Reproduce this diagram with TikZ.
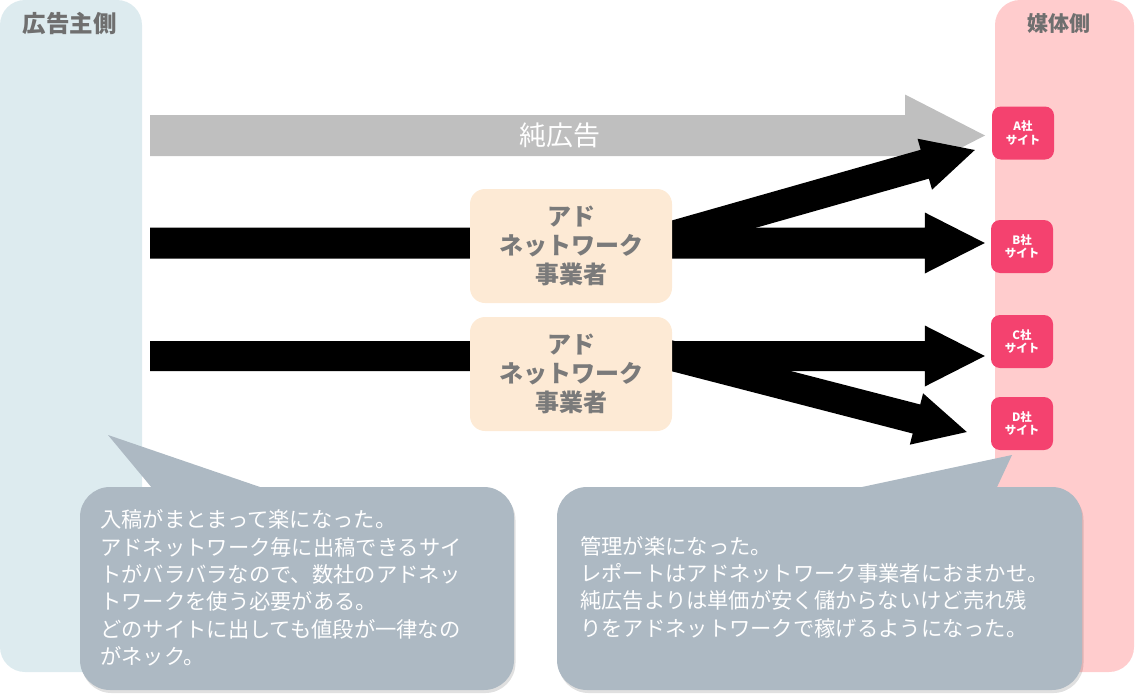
\documentclass[tikz,border=0pt]{standalone}
\usepackage{fontspec}
\setmainfont{Noto Sans CJK JP}
\newfontfamily\cjk{Noto Sans CJK JP}
\usetikzlibrary{calc}
\definecolor{advpanel}{HTML}{DDEBEF}
\definecolor{medpanel}{HTML}{FFCCCD}
\definecolor{sitered}{HTML}{F4426F}
\definecolor{peach}{HTML}{FDEAD5}
\definecolor{callout}{HTML}{ADB9C3}
\definecolor{pureg}{HTML}{BFBFBF}
\definecolor{titleg}{HTML}{6F6F6F}
\definecolor{netg}{HTML}{7A7A7A}
% #1 start, #2 tip, #3 body half width, #4 head half width, #5 head length, #6 colour
\newcommand\fatarrow[6]{%
  \path ($(#2)!#5!(#1)$) coordinate (fah);
  \fill[#6] ($(#1)!#3!90:(#2)$) -- ($(fah)!#3!90:(#2)$) -- ($(fah)!#4!90:(#2)$)
    -- (#2) -- ($(fah)!#4!-90:(#2)$) -- ($(fah)!#3!-90:(#2)$) -- ($(#1)!#3!-90:(#2)$) -- cycle;
}
\tikzset{
  paneltitle/.style={font=\fontsize{23.5}{27}\selectfont\bfseries, text=titleg},
  sitebox/.style={fill=sitered, rounded corners=9pt, minimum width=62pt, minimum height=53pt,
    inner sep=0pt, text=white, align=center, font=\fontsize{11.5}{13.5}\selectfont\bfseries},
  netbox/.style={fill=peach, rounded corners=15pt, minimum width=202pt, minimum height=114pt,
    inner sep=0pt, text=netg, align=center, font=\fontsize{24}{29}\selectfont\bfseries},
  callouttext/.style={text=white, align=left, anchor=west, inner sep=0pt,
    font=\fontsize{21.3}{27.3}\selectfont},
}
\begin{document}
\begin{tikzpicture}[x=1pt,y=-1pt]
\useasboundingbox (0,0) rectangle (1136,699);
\clip (0,0) rectangle (1136,699);
% panels
\fill[advpanel, rounded corners=25pt] (0,0) rectangle (142,672);
\fill[medpanel, rounded corners=25pt] (995,0) rectangle (1134,672);
\node[paneltitle] (advtitle) at (70,24) {広告主側};
\node[paneltitle, font=\fontsize{21}{25}\selectfont\bfseries] (medtitle) at (1059,24) {媒体側};
% sites
\node[sitebox] (siteA) at (1023,133) {A社\\サイト};
\node[sitebox] (siteB) at (1022,246.5) {B社\\サイト};
\node[sitebox] (siteC) at (1022,341.5) {C社\\サイト};
\node[sitebox] (siteD) at (1022,423.5) {D社\\サイト};
% connector anchor coordinates
\coordinate (pureS) at (150,135.5);
\coordinate (pureE) at (985,135.5);
\coordinate (n1S) at (150,243);
\coordinate (n2S) at (150,356);
\coordinate (n1R) at (665,238);
\coordinate (n2R) at (665,354);
\coordinate (tipA) at ($(siteA.west)+(-17,17)$);
\coordinate (tipB) at ($(siteB.west |- n1S)+(-6,0)$);
\coordinate (tipC) at ($(siteC.west |- n2S)+(-6,0)$);
\coordinate (tipD) at ($(siteD.west)+(-24,8.5)$);
% arrows
\fatarrow{pureS}{pureE}{20.5pt}{41pt}{80pt}{pureg}
\node[text=white, font=\fontsize{27}{30}\selectfont] (purelabel) at (560,135) {純広告};
\fatarrow{n1S}{tipB}{15.5pt}{30.5pt}{60pt}{black}
\fatarrow{n1R}{tipA}{15pt}{26.5pt}{52pt}{black}
\fatarrow{n2S}{tipC}{15pt}{30.5pt}{60pt}{black}
\fatarrow{n2R}{tipD}{15pt}{26.5pt}{52pt}{black}
% ad network nodes
\node[netbox] (net1) at (571,246) {アド\\ネットワーク\\事業者};
\node[netbox] (net2) at (571,374) {アド\\ネットワーク\\事業者};
% callouts: shadows
\begin{scope}[shift={(1.5,3)}, fill=black, opacity=0.12]
  \fill[rounded corners=30pt] (80,487) rectangle (514,690);
  \fill[rounded corners=30pt] (557,487) rectangle (1082,690);
\end{scope}
% left callout
\fill[callout] (108,435) -- (162,500) -- (298,500) -- cycle;
\fill[callout, rounded corners=30pt] (80,487) rectangle (514,690);
\node[callouttext] (advnote) at (100,588) {入稿がまとまって楽になった。\\アドネットワーク毎に出稿できるサイ\\トがバラバラなので、数社のアドネッ\\トワークを使う必要がある。\\どのサイトに出しても値段が一律なの\\がネック。};
% right callout
\fill[callout] (1012,455) -- (801,500) -- (991,500) -- cycle;
\fill[callout, rounded corners=30pt] (557,487) rectangle (1082,690);
\node[callouttext] (mednote) at (580,587) {管理が楽になった。\\レポートはアドネットワーク事業者におまかせ。\\純広告よりは単価が安く儲からないけど売れ残\\りをアドネットワークで稼げるようになった。};
\end{tikzpicture}
\end{document}
